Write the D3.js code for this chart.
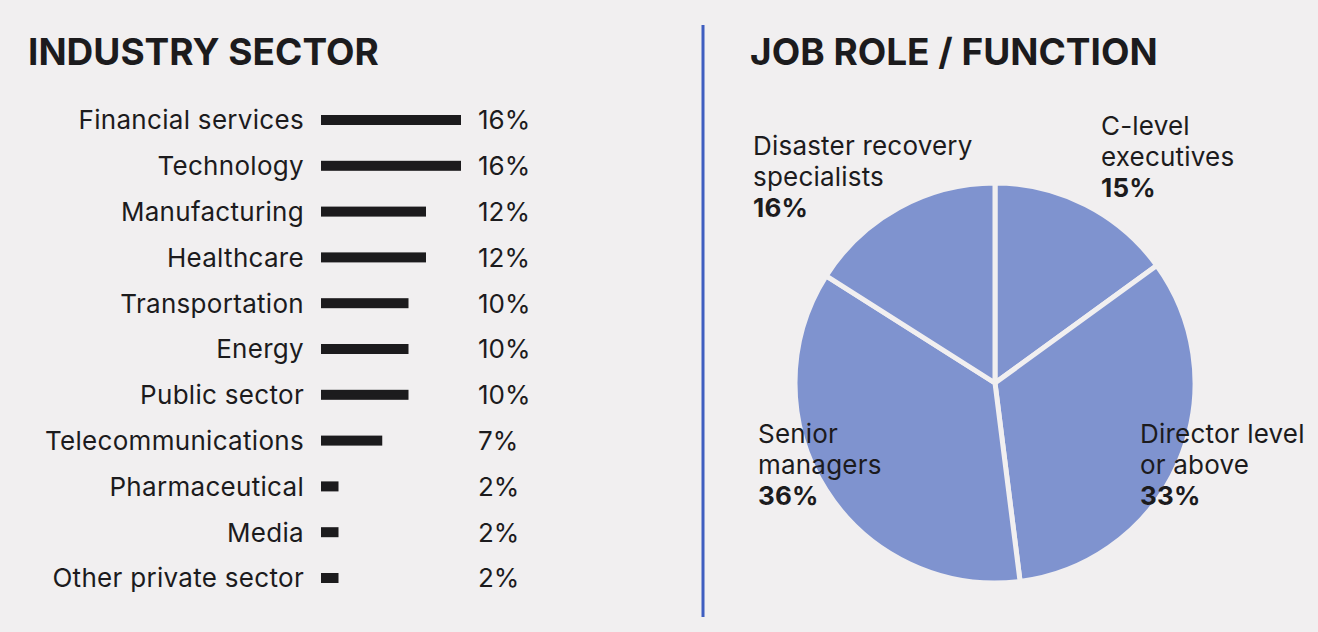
<!DOCTYPE html>
<html><head><meta charset="utf-8">
<script src="https://cdn.jsdelivr.net/npm/d3@7"></script>
<style>
html,body{margin:0;padding:0;background:#f1eff0;}
svg{display:block;font-family:Inter,"Noto Sans",sans-serif;}
</style></head>
<body><svg id="c" width="1318" height="632"></svg>
<script>
const sectors = ["Financial services","Technology","Manufacturing","Healthcare","Transportation","Energy","Public sector","Telecommunications","Pharmaceutical","Media","Other private sector"];
const sectorValues = [16,16,12,12,10,10,10,7,2,2,2];
const roles = ["C-level executives","Director level or above","Senior managers","Disaster recovery specialists"];
const roleLines = [["C-level","executives"],["Director level","or above"],["Senior","managers"],["Disaster recovery","specialists"]];
const roleValues = [15,33,36,16];

const svg = d3.select("#c");
const ink = "#1c1b1d";

svg.append("text").attr("x",28).attr("y",65).attr("font-size",37).attr("font-weight",700).attr("fill",ink).text("INDUSTRY SECTOR");
svg.append("text").attr("x",750).attr("y",65).attr("font-size",37).attr("font-weight",700).attr("fill",ink).text("JOB ROLE / FUNCTION");

svg.append("line").attr("x1",703).attr("x2",703).attr("y1",25).attr("y2",617).attr("stroke","#3f5ec0").attr("stroke-width",3);

// bars
const y = d3.scalePoint().domain(sectors).range([120,578]);
const x = d3.scaleLinear().domain([0,16]).range([321,461]);
const g = svg.append("g");
const rows = g.selectAll("g").data(sectors).join("g").attr("transform",d=>`translate(0,${y(d)})`);
rows.append("text").attr("x",304).attr("y",0).attr("dy","0.36em").attr("text-anchor","end").attr("font-size",26).attr("letter-spacing",0.3).attr("fill",ink).text(d=>d);
rows.append("rect").attr("x",x(0)).attr("y",-5).attr("height",10).attr("width",(d,i)=>x(sectorValues[i])-x(0)).attr("fill",ink);
rows.append("text").attr("x",478).attr("y",0).attr("dy","0.36em").attr("font-size",26).attr("fill",ink).text((d,i)=>sectorValues[i]+"%");

// pie
const cx=995, cy=383, r=200;
const pie = d3.pie().sort(null).value(d=>d)(roleValues);
const arc = d3.arc().innerRadius(0).outerRadius(r);
svg.append("g").attr("transform",`translate(${cx},${cy})`).selectAll("path").data(pie).join("path")
  .attr("d",arc).attr("fill","#7f93cf").attr("stroke","#f1eff0").attr("stroke-width",5).attr("stroke-linejoin","round");

const labelPos = [[1101,135],[1140,443],[758,443],[753,155]];
roleLines.forEach((lines,i)=>{
  const t = svg.append("text").attr("font-size",26).attr("letter-spacing",0.2).attr("fill",ink);
  lines.forEach((l,j)=>t.append("tspan").attr("x",labelPos[i][0]).attr("y",labelPos[i][1]+j*31).text(l));
  t.append("tspan").attr("x",labelPos[i][0]).attr("y",labelPos[i][1]+lines.length*31).attr("font-weight",700).text(roleValues[i]+"%");
});
</script></body></html>
